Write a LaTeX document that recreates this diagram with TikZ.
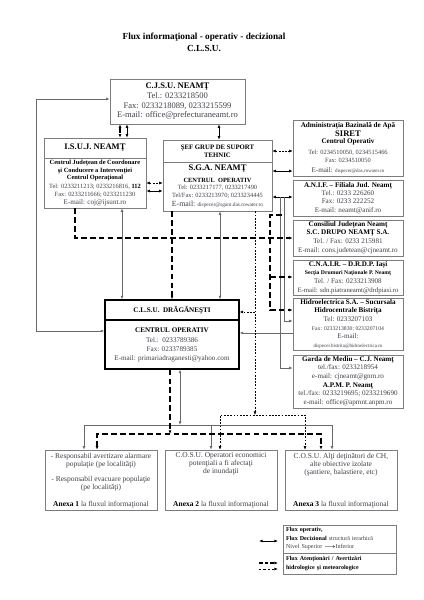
\documentclass[tikz,border=0pt]{standalone}
\usepackage{fontspec}
\setmainfont{Liberation Serif}
\usetikzlibrary{arrows.meta,positioning}
\usepackage{xcolor}
\usepackage{amsmath}
\definecolor{txtgray}{RGB}{64,64,74}
\definecolor{boxgray}{RGB}{125,125,125}
\definecolor{linegray}{RGB}{105,105,105}
\newcommand{\fsz}[2]{\fontsize{#1}{#2}\selectfont}
\newcommand{\hdr}[1]{{\color{black}\bfseries #1}}

\begin{document}
\begin{tikzpicture}[x=1.404pt,y=-1.404pt,>={Latex[length=5pt,width=4pt]}]
\tikzstyle{box} = [
	draw=boxgray,
	line width=0.9pt,
	text=txtgray,
	align=center,
	inner sep=1pt
]
\tikzset{dims/.style 2 args={minimum width=#1*1.404pt, minimum height=#2*1.404pt}}
\tikzstyle{mainbox} = [box, draw=black, line width=1.8pt]
\tikzstyle{flow} = [draw=linegray, line width=1pt]
\tikzstyle{flowk} = [draw=black, line width=0.9pt]
\tikzstyle{warn} = [draw=black, line width=1.5pt, dash pattern=on 8pt off 4.5pt]
\tikzstyle{dots} = [draw=black, line width=0.7pt, dash pattern=on 2.5pt off 2pt]

\useasboundingbox (0,0) rectangle (424,600);
\fill[white] (0,0) rectangle (424,600);

% title
\node[font=\fsz{13}{17}\bfseries, align=center] (title) at (204,42) {Flux informaţional - operativ - decizional\\C.L.S.U.};

% county level
\node[box, dims={135}{45}, font=\fsz{12}{13.5}] (CJSU) at (177.5,101.5) {\hdr{C.J.S.U. NEAMŢ}\\Tel.: 0233218500\\Fax: 0233218089, 0233215599\\E-mail: office@prefecturaneamt.ro};

\node[box, dims={102}{20}, font=\fsz{12}{14}\bfseries, text=black] (ISUJh) at (95,148) {I.S.U.J. NEAMŢ};
\node[box, dims={102}{50}, font=\fsz{9}{10}] (ISUJb) at (95,183) {\hdr{Centrul Judeţean de Coordonare}\\\hdr{şi Conducere a Intervenţiei}\\\hdr{Centrul Operaţional}\\[2.6pt]Tel: 0233211213; 0233216816, \hdr{112}\\[1.2pt]Fax: 0233211666; 0233211230\\[1.2pt]{\fsz{10}{11}E-mail: coj@ijsunt.ro}};

\node[box, dims={109}{22}, font=\fsz{9.5}{11}\bfseries, text=black] (SGAh) at (217.5,151) {ŞEF GRUP DE SUPORT\\TEHNIC};
\node[box, dims={109}{49}, font=\fsz{9}{10}] (SGAb) at (217.5,186.5) {\hdr{\fsz{12}{13}S.G.A. NEAMŢ}\\[6.8pt]\hdr{CENTRUL\ \ OPERATIV}\\[-0.2pt]Tel: 0233217177, 0233217490\\[1.2pt]Tel/Fax: 0233213970; 0233234445\\[2.6pt]{\fsz{11}{12}E-mail:} {\fsz{7.5}{8}dispecer@sgant.das.rowater.ro}};

% right column
\node[box, dims={110}{56}, font=\fsz{9}{11.2}] (ABA) at (348,148) {\hdr{\fsz{10}{11}Administraţia Bazinală de Apă}\\[1.4pt]\hdr{\fsz{12}{13}SIRET}\\\hdr{\fsz{10}{11}Centrul Operativ}\\[4.2pt]Tel: 0234510050, 0234515466\\Fax: 0234510050\\[2.8pt]{\fsz{10}{11}E-mail:} {\fsz{7}{8}dispecer@das.rowater.ro}};
\node[box, dims={110}{36}, font=\fsz{10}{11.2}] (ANIF) at (348,198) {\hdr{A.N.I.F. – Filiala Jud. Neamţ}\\Tel.: 0233 226260\\Fax: 0233 222252\\[1.4pt]E-mail: neamt@anif.ro};
\node[box, dims={110}{36}, font=\fsz{10}{11.2}] (CJ) at (348,238) {\hdr{Consiliul Judeţean Neamţ}\\\hdr{S.C. DRUPO NEAMŢ S.A.}\\[1.4pt]Tel. / Fax: 0233 215981\\[1.4pt]E-mail: cons.judetean@cjneamt.ro};
\node[box, dims={110}{35}, font=\fsz{10}{11.2}] (CNAIR) at (348,277.5) {\hdr{C.N.A.I.R. – D.R.D.P. Iaşi}\\\hdr{\fsz{8}{9}Secţia Drumuri Naţionale P. Neamţ}\\[1.4pt]Tel. / Fax: 0233213908\\[1.4pt]{\fsz{9.5}{10}E-mail: sdn.piatraneamt@drdpiasi.ro}};
\node[box, dims={110}{52}, font=\fsz{10}{11.2}] (HIDRO) at (348,324) {\hdr{Hidroelectrica S.A. – Sucursala}\\\hdr{Hidrocentrale Bistriţa}\\[1.4pt]Tel: 0233207103\\[1.4pt]{\fsz{8}{9}Fax: 0233213830; 0233207104}\\E-mail:\\[1.4pt]{\fsz{7}{8}dispecer.bistrita@hidroelectrica.ro}};
\node[box, dims={110}{53}, font=\fsz{10}{11.2}] (GARDA) at (348,381.5) {\hdr{Garda de Mediu – C.J. Neamţ}\\tel./fax: 0233218954\\[1.4pt]e-mail: cjneamt@gnm.ro\\[1.4pt]\hdr{A.P.M. P. Neamţ}\\tel./fax: 0233219695; 0233219690\\[1.4pt]e-mail: office@apmnt.anpm.ro};

% local level
\node[mainbox, dims={134}{20}, font=\fsz{10}{12}\bfseries, text=black] (CLSUh) at (172,310) {C.L.S.U.\ \ DRĂGĂNEŞTI};
\node[mainbox, dims={134}{49}, font=\fsz{10}{12.6}] (CLSUb) at (172,344.5) {\hdr{CENTRUL OPERATIV}\\[1.4pt]Tel.:\ \ 0233789386\\Fax: 0233789385\\E-mail: primariadraganesti@yahoo.com};

% annexes
\node[box, dims={112}{60}] (B1) at (101,480) {};
\node[box, dims={112}{60}] (B2) at (221,480) {};
\node[box, dims={112}{60}] (B3) at (341,480) {};
\node[font=\fsz{10.5}{11.2}, text=txtgray, align=center, anchor=north, inner sep=4.5pt] (B1t) at (B1.north) {- Responsabil avertizare alarmare\\populaţie (pe localităţi)\\[9.8pt]- Responsabil evacuare populaţie\\(pe localităţi)};
\node[font=\fsz{10.5}{11.2}, text=txtgray, align=center, anchor=north, inner sep=4.5pt] (B2t) at (B2.north) {C.O.S.U. Operatori economici\\potenţiali a fi afectaţi\\de inundaţii};
\node[font=\fsz{10.5}{11.2}, text=txtgray, align=center, anchor=north, inner sep=4.5pt] (B3t) at (B3.north) {C.O.S.U. Alţi deţinători de CH,\\alte obiective izolate\\(şantiere, balastiere, etc)};
\node[font=\fsz{10.5}{12}, text=txtgray, anchor=south, inner sep=3.5pt] (B1a) at (B1.south) {\hdr{Anexa 1} la fluxul informaţional};
\node[font=\fsz{10.5}{12}, text=txtgray, anchor=south, inner sep=3.5pt] (B2a) at (B2.south) {\hdr{Anexa 2} la fluxul informaţional};
\node[font=\fsz{10.5}{12}, text=txtgray, anchor=south, inner sep=3.5pt] (B3a) at (B3.south) {\hdr{Anexa 3} la fluxul informaţional};

% legend
\node[box, dims={113}{28}, font=\fsz{8.5}{11.2}, align=left, text width=150pt] (LEGa) at (339.5,539) {\hdr{Flux operativ,}\\[1.4pt]\hdr{Flux Decizional} structură ierarhică\\Nivel Superior {\color{black}$\boldsymbol{\longrightarrow}$}Inferior};
\node[box, dims={113}{21}, font=\fsz{8.5}{12.6}, align=left, text width=150pt] (LEGb) at (339.5,563.5) {\hdr{Flux Atenţionări / Avertizări}\\\hdr{hidrologice şi meteorologice}};

% junction points
\coordinate (j1) at (280,197);
\coordinate (j2) at (284,197);
\coordinate (w1) at (282,215);
\coordinate (w2) at (270,277);
\coordinate (d1) at (255,415);
\coordinate (d2) at (220,415);
\coordinate (d3) at (305,415);
\coordinate (d4) at (255,312);
\coordinate (s1) at (180,425);
\coordinate (s2) at (84,425);
\coordinate (s3) at (332,425);
\coordinate (t1) at (170,434);
\coordinate (t2) at (97,434);
\coordinate (t3) at (321,434);

% operative / decisional flow
\draw[flow,<->] (CJSU.west |- 0,99) -| (36,331) -- (CLSUb.west |- 0,331);
\draw[warn,<->] (CJSU.south -| 120,0) -- (ISUJh.north -| 120,0);
\draw[flowk,<->] (CJSU.south -| 127,0) -- (ISUJh.north -| 127,0);
\draw[flowk,<->] (CJSU.south -| 219,0) -- (SGAh.north -| 219,0);
\draw[dots,<->] (ISUJb.east |- 0,183) -- (SGAb.west |- 0,183);
\draw[flowk,<->] (ISUJb.east |- 0,191) -- (SGAb.west |- 0,191);
\draw[dots,<->] (SGAh.east |- 0,151) -- (ABA.west |- 0,151);
\draw[flowk,<->] (SGAb.east |- 0,171) -- (ABA.west |- 0,171);
\draw[flowk,<->] (SGAb.east |- 0,197) -- (ANIF.west |- 0,197);
\draw[flow,->] (j1) |- (GARDA.west |- 0,368);
\draw[flow,->] (j2) |- (HIDRO.west |- 0,321);
\draw[flow,->] (HIDRO.west |- 0,333) -- (CLSUb.east |- 0,333);
\draw[flow,<->] (ISUJb.south -| 122,0) -- (CLSUh.north -| 122,0);
\draw[flow,<->] (SGAb.south -| 220,0) -- (CLSUh.north -| 220,0);

% warnings
\draw[warn,->] (ISUJb.south -| 75,0) |- (CJ.west);
\draw[warn,->] (SGAb.south -| 172,0) -- (CLSUh.north);
\draw[warn,->] (w1) -| (w2) |- (HIDRO.west |- 0,310);
\draw[warn,->] (w2) -- (CNAIR.west |- w2);
\draw[dots,->] (SGAb.south -| d1) -- (d1);
\draw[dots,->] (d4) -- (CLSUh.east |- d4);
\draw[dots,<->] (B2.north -| d2) -- (d2) -- (d3) -- (B3.north -| d3);

% towards the annexes
\draw[flow,<->] (CLSUb.south -| s1) -- (s1);
\draw[flow,<->] (B1.north -| s2) -- (s2) -- (s3) -- (B3.north -| s3);
\draw[flow,->] (s1 -| 211,0) -- (B2.north -| 211,0);
\draw[warn,->] (CLSUb.south -| t1) -- (t1);
\draw[warn,<->] (B1.north -| t2) -- (t2) -- (t3) -- (B3.north -| t3);

% legend arrows
\coordinate (Lg1) at (259,541);
\coordinate (Lg2) at (278,541);
\coordinate (Lg3) at (259,563);
\coordinate (Lg4) at (278,563);
\coordinate (Lg5) at (259,569);
\coordinate (Lg6) at (278,569);
\draw[flowk,<->] (Lg1) -- (Lg2);
\draw[warn,->,dash pattern=on 5pt off 3pt] (Lg3) -- (Lg4);
\draw[dots,->,line width=1pt,dash pattern=on 3.5pt off 2.5pt] (Lg5) -- (Lg6);
\end{tikzpicture}
\end{document}
